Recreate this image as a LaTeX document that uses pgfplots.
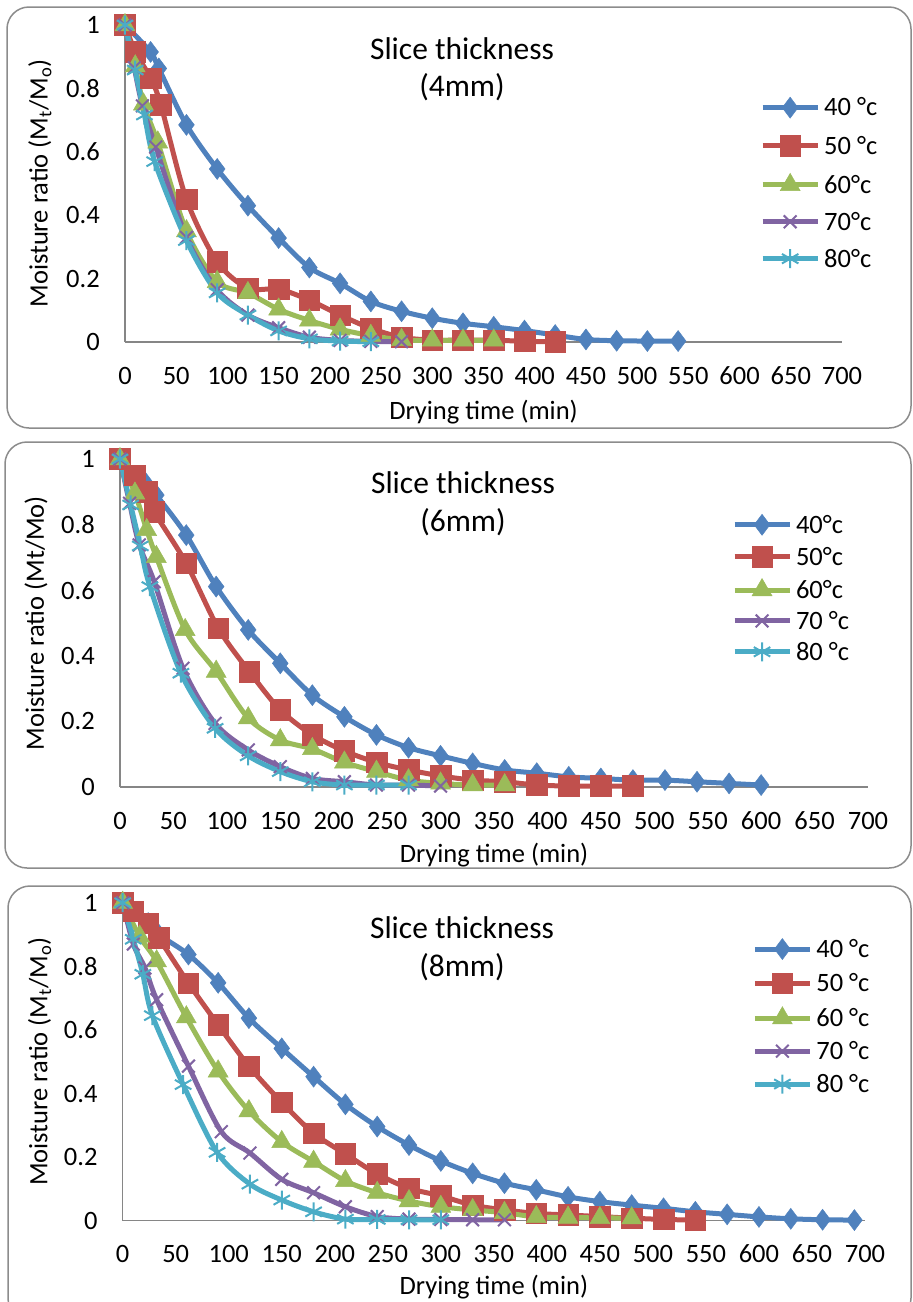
\documentclass[border=0pt]{standalone}
\usepackage{fontspec}
\setmainfont{Carlito}
\usepackage{pgfplots}
\pgfplotsset{compat=1.18}
\definecolor{c1}{HTML}{4F81BD}
\definecolor{c2}{HTML}{C0504D}
\definecolor{c3}{HTML}{9BBB59}
\definecolor{c4}{HTML}{8064A2}
\definecolor{c5}{HTML}{4BACC6}
\definecolor{axgray}{HTML}{868686}
\definecolor{bordergray}{HTML}{8C8C8C}
\newcommand{\fs}{\fontsize{26.5}{31}\selectfont}
\newcommand{\ft}{\fontsize{31.5}{37}\selectfont}
\pgfplotsset{
  panel/.style={
    scale only axis, clip=false,
    xmin=0, xmax=700, ymin=0, ymax=1,
    axis x line=bottom, axis y line=left,
    axis line style={-, draw=axgray, line width=1.5pt},
    xtick={0,50,100,150,200,250,300,350,400,450,500,550,600,650,700},
    xticklabels={0,50,100,150,200,250,300,350,400,450,500,550,600,650,700},
    ytick={0,0.2,0.4,0.6,0.8,1},
    yticklabels={0,0.2,0.4,0.6,0.8,1},
    major tick length=0pt,
    xticklabel style={font=\fs, anchor=base, yshift=-42pt, inner sep=0pt},
    yticklabel style={font=\fs, anchor=east, xshift=-25pt, inner sep=0pt},
    xlabel={Drying time (min)},
    label style={font=\fs},
    legend cell align=left,
    legend image code/.code={\draw[mark repeat=2,mark phase=2] plot coordinates {(0pt,0pt) (27.5pt,0pt) (55pt,0pt)};},
  },
  s1/.style={color=c1, line width=5pt, smooth, mark=diamond*, mark size=10.5pt, mark options={solid, fill=c1, draw=c1, line width=0.5pt}},
  s2/.style={color=c2, line width=5pt, smooth, mark=square*, mark size=10.3pt, mark options={solid, fill=c2, draw=c2, line width=0.5pt}},
  s3/.style={color=c3, line width=5pt, smooth, mark=triangle*, mark size=11.5pt, mark options={solid, fill=c3, draw=c3, line width=0.5pt}},
  s4/.style={color=c4, line width=5pt, smooth, mark=x, mark size=9pt, mark options={solid, draw=c4, line width=2pt}},
  s5/.style={color=c5, line width=5pt, smooth, mark=asterisk, mark size=9.5pt, mark options={solid, draw=c5, line width=2pt}},
}
\begin{document}
\begin{tikzpicture}
\useasboundingbox (0pt,0pt) rectangle (913pt,-1302pt);
% panel borders
\draw[bordergray, line width=1.5pt, rounded corners=22pt] (7pt,-7pt) rectangle (911pt,-428pt);
\draw[bordergray, line width=1.5pt, rounded corners=22pt] (5pt,-442pt) rectangle (911pt,-868pt);
\draw[bordergray, line width=1.5pt, rounded corners=22pt] (8pt,-886pt) rectangle (911pt,-1320pt);

% ---------------- Panel 1 (4mm)
\begin{axis}[panel, at={(125pt,-342pt)}, anchor=south west, width=717pt, height=317pt,
  ylabel={Moisture ratio (M\textsubscript{t}/M\textsubscript{o})},
  ylabel style={at={(axis description cs:-0.1186,0.5)}, anchor=center},
  xlabel style={at={(axis description cs:0.5,-0.221)}, anchor=center},
  legend style={draw=none, fill=none, font=\fs, inner sep=0pt, row sep=17.3pt, column sep=4pt,
    nodes={inner sep=0pt}, at={(axis description cs:0.8856,0.773)}, anchor=north west}]
\addplot[s1] coordinates {(0,1) (25,0.915) (33,0.863) (60,0.685) (90,0.546) (120,0.43) (150,0.328) (180,0.235) (210,0.185) (240,0.128) (270,0.097) (300,0.075) (330,0.059) (360,0.048) (390,0.036) (420,0.022) (450,0.008) (480,0.004) (510,0.003) (540,0.003)};
\addlegendentry{40 °c}
\addplot[s2] coordinates {(0,1) (10,0.916) (25,0.832) (35,0.748) (60,0.45) (90,0.253) (120,0.17) (150,0.167) (180,0.132) (210,0.085) (240,0.043) (270,0.015) (300,0.006) (330,0.006) (360,0.006) (390,0.002) (420,0.001)};
\addlegendentry{50 °c}
\addplot[s3] coordinates {(0,1) (10,0.87) (18,0.75) (32,0.63) (60,0.35) (90,0.19) (120,0.155) (150,0.103) (180,0.068) (210,0.04) (240,0.02) (270,0.007) (300,0.005) (330,0.005) (360,0.005)};
\addlegendentry{60°c}
\addplot[s4] coordinates {(0,1) (9,0.865) (17,0.745) (30,0.615) (60,0.33) (90,0.165) (120,0.085) (150,0.045) (180,0.015) (210,0.005) (240,0.002) (270,0.001)};
\addlegendentry{70°c}
\addplot[s5] coordinates {(0,1) (10,0.858) (19,0.716) (29,0.569) (60,0.32) (90,0.155) (120,0.085) (150,0.035) (180,0.01) (210,0.003) (240,0.001)};
\addlegendentry{80°c}
\end{axis}
\node[font=\ft, anchor=base] at (462pt,-59pt) {Slice thickness};
\node[font=\ft, anchor=base] at (462pt,-96pt) {(4mm)};

% ---------------- Panel 2 (6mm)
\begin{axis}[panel, at={(120pt,-787pt)}, anchor=south west, width=748pt, height=328pt,
  ylabel={Moisture ratio (Mt/Mo)},
  ylabel style={at={(axis description cs:-0.1123,0.5)}, anchor=center},
  xlabel style={at={(axis description cs:0.5,-0.207)}, anchor=center},
  legend style={draw=none, fill=none, font=\fs, inner sep=0pt, row sep=11.3pt, column sep=4pt,
    nodes={inner sep=0pt}, at={(axis description cs:0.818,0.832)}, anchor=north west}]
\addplot[s1] coordinates {(0,1) (23,0.931) (34,0.89) (62,0.768) (90,0.611) (120,0.479) (150,0.377) (180,0.28) (210,0.214) (240,0.159) (270,0.12) (300,0.095) (330,0.072) (360,0.052) (390,0.042) (420,0.031) (450,0.026) (480,0.021) (510,0.021) (540,0.016) (570,0.011) (600,0.006)};
\addlegendentry{40°c}
\addplot[s2] coordinates {(0,1) (14,0.951) (25,0.9) (32,0.839) (62,0.682) (92,0.484) (121,0.352) (150,0.235) (180,0.159) (210,0.11) (240,0.075) (270,0.052) (300,0.034) (330,0.021) (360,0.016) (390,0.006) (420,0.003) (450,0.003) (480,0.003)};
\addlegendentry{50°c}
\addplot[s3] coordinates {(0,1) (14,0.895) (25,0.784) (34,0.702) (61,0.479) (90,0.352) (120,0.21) (150,0.143) (180,0.116) (210,0.075) (240,0.047) (270,0.021) (300,0.011) (330,0.006) (360,0.006)};
\addlegendentry{60°c}
\addplot[s4] coordinates {(0,1) (9,0.865) (18,0.738) (32,0.626) (59,0.362) (89,0.194) (120,0.113) (150,0.062) (180,0.026) (210,0.016) (240,0.006) (270,0.006) (300,0.003)};
\addlegendentry{70 °c}
\addplot[s5] coordinates {(0,1) (10,0.86) (19,0.735) (28,0.611) (57,0.347) (89,0.179) (120,0.095) (150,0.047) (180,0.016) (210,0.006) (240,0.006) (270,0.006)};
\addlegendentry{80 °c}
\end{axis}
\node[font=\ft, anchor=base] at (463pt,-493pt) {Slice thickness};
\node[font=\ft, anchor=base] at (463pt,-531pt) {(6mm)};

% ---------------- Panel 3 (8mm)
\begin{axis}[panel, at={(122.7pt,-1220.7pt)}, anchor=south west, width=742.3pt, height=318pt,
  ylabel={Moisture ratio (M\textsubscript{t}/M\textsubscript{o})},
  ylabel style={at={(axis description cs:-0.1118,0.5)}, anchor=center},
  xlabel style={at={(axis description cs:0.5,-0.2075)}, anchor=center},
  legend style={draw=none, fill=none, font=\fs, inner sep=0pt, row sep=13.3pt, column sep=4pt,
    nodes={inner sep=0pt}, at={(axis description cs:0.848,0.888)}, anchor=north west}]
\addplot[s1] coordinates {(0,1) (24,0.936) (34,0.9) (62,0.837) (90,0.748) (119,0.637) (150,0.542) (180,0.453) (210,0.366) (240,0.296) (270,0.238) (300,0.188) (330,0.149) (360,0.118) (390,0.097) (420,0.075) (450,0.06) (480,0.049) (510,0.039) (540,0.028) (570,0.02) (600,0.012) (630,0.006) (660,0.003) (690,0.002)};
\addlegendentry{40 °c}
\addplot[s2] coordinates {(0,1) (10,0.973) (24,0.936) (34,0.889) (62,0.747) (90,0.616) (119,0.486) (150,0.372) (180,0.275) (210,0.21) (240,0.147) (270,0.102) (300,0.078) (330,0.049) (360,0.034) (390,0.023) (420,0.018) (450,0.013) (480,0.008) (510,0.004) (540,0.002)};
\addlegendentry{50 °c}
\addplot[s3] coordinates {(0,1) (16,0.894) (32,0.816) (60,0.64) (90,0.47) (119,0.345) (150,0.248) (180,0.186) (210,0.125) (240,0.088) (270,0.062) (300,0.044) (330,0.034) (360,0.025) (390,0.012) (420,0.01) (450,0.009) (480,0.008)};
\addlegendentry{60 °c}
\addplot[s4] coordinates {(0,1) (10,0.87) (21,0.795) (32,0.695) (62,0.486) (93,0.28) (120,0.213) (150,0.13) (180,0.088) (210,0.044) (240,0.013) (270,0.005) (300,0.004) (330,0.003) (360,0.003)};
\addlegendentry{70 °c}
\addplot[s5] coordinates {(0,1) (10,0.885) (19,0.775) (28,0.645) (57,0.428) (89,0.215) (120,0.115) (150,0.065) (180,0.028) (210,0.005) (240,0.004) (270,0.003) (300,0.003)};
\addlegendentry{80 °c}
\end{axis}
\node[font=\ft, anchor=base] at (462pt,-938pt) {Slice thickness};
\node[font=\ft, anchor=base] at (462pt,-976pt) {(8mm)};
\end{tikzpicture}
\end{document}
